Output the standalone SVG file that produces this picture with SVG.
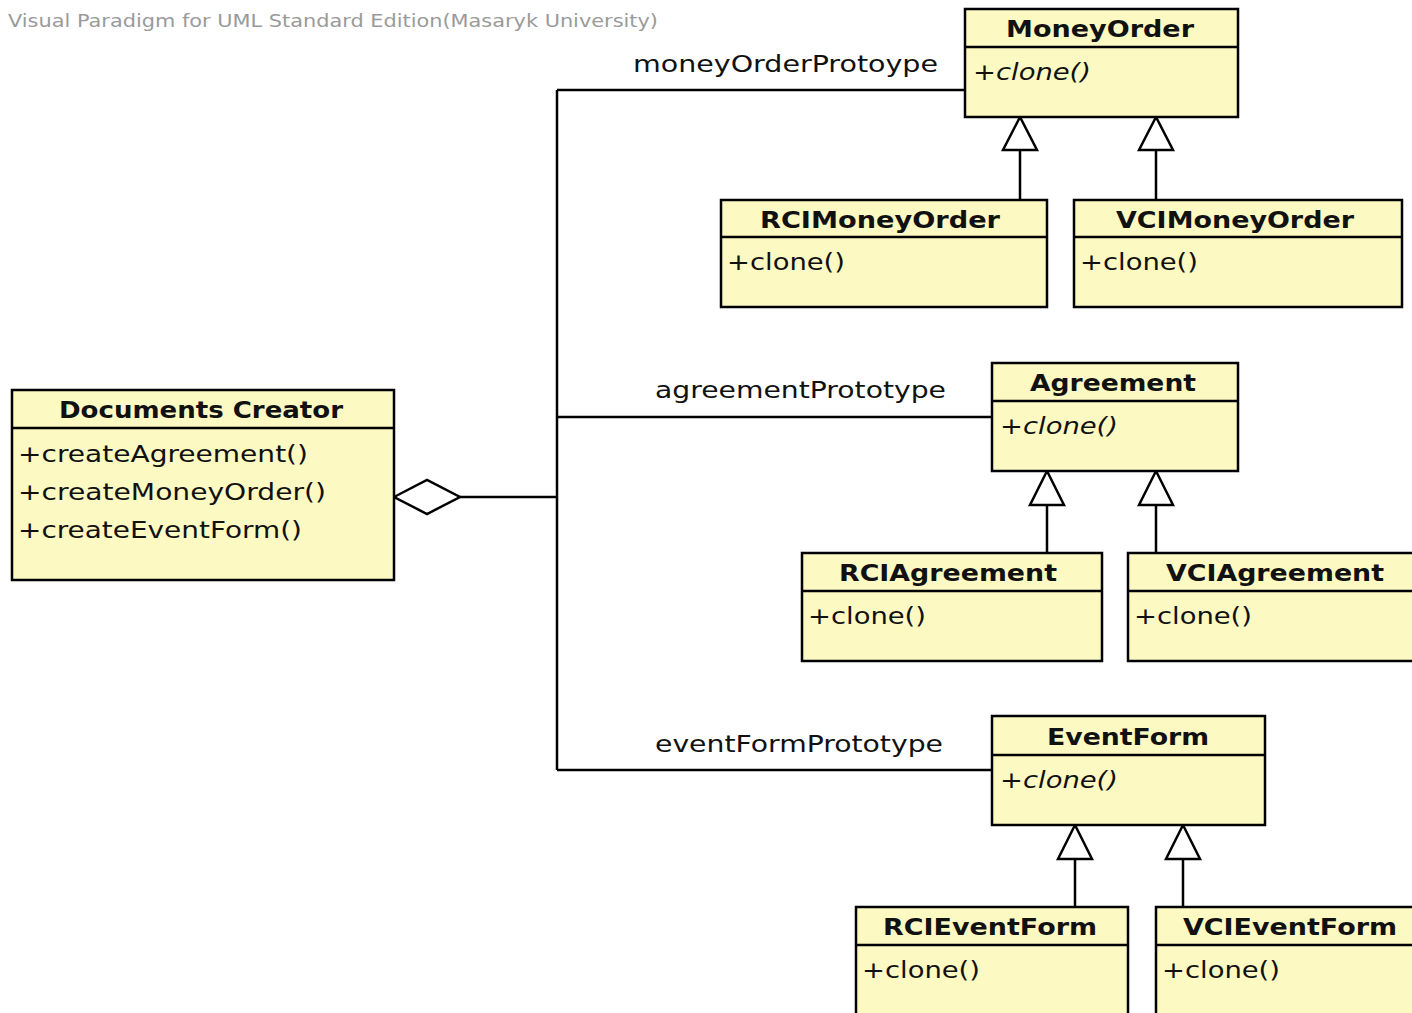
<svg xmlns="http://www.w3.org/2000/svg" width="1412" height="1013" viewBox="0 0 1412 1013">
<style>
.box{fill:#fcf9c2;stroke:#000;stroke-width:2.5}
.ln{stroke:#000;stroke-width:2.5;fill:none}
.tri{fill:#fcf9c2;stroke:#000;stroke-width:2.5}
.t{font-family:"DejaVu Sans",sans-serif;font-size:23px;fill:#111}
.h{font-family:"DejaVu Sans",sans-serif;font-size:23px;font-weight:bold;fill:#111;text-anchor:middle}
.i{font-style:italic}
.wm{font-family:"DejaVu Sans",sans-serif;font-size:17px;fill:#9a9a9a}
</style>
<rect width="1412" height="1013" fill="#fff"/>
<text class="wm" x="8" y="27" textLength="650" lengthAdjust="spacingAndGlyphs">Visual Paradigm for UML Standard Edition(Masaryk University)</text>

<g id="connectors">
<path class="ln" d="M460 497 H557 M557 90 V770 M557 90 H965 M557 417 H992 M557 770 H992"/>
<polygon class="tri" points="394,497 427,480 460,497 427,514" fill="#fff" style="fill:#fff"/>
<path class="ln" d="M1020 200 V150 M1156 200 V150 M1047 553 V505 M1156 553 V505 M1075 907 V859 M1183 907 V859"/>
<polygon class="tri" style="fill:#fff" points="1020,117 1003,150 1037,150"/>
<polygon class="tri" style="fill:#fff" points="1156,117 1139,150 1173,150"/>
<polygon class="tri" style="fill:#fff" points="1047,471 1030,505 1064,505"/>
<polygon class="tri" style="fill:#fff" points="1156,471 1139,505 1173,505"/>
<polygon class="tri" style="fill:#fff" points="1075,825 1058,859 1092,859"/>
<polygon class="tri" style="fill:#fff" points="1183,825 1166,859 1200,859"/>
<text class="t" x="633" y="72" textLength="305" lengthAdjust="spacingAndGlyphs">moneyOrderProtoype</text>
<text class="t" x="655" y="398" textLength="291" lengthAdjust="spacingAndGlyphs">agreementPrototype</text>
<text class="t" x="655" y="752" textLength="288" lengthAdjust="spacingAndGlyphs">eventFormPrototype</text>
</g>

<g id="DocumentsCreator">
<rect class="box" x="12" y="390" width="382" height="190"/>
<line class="ln" x1="12" y1="428" x2="394" y2="428"/>
<text class="h" x="201" y="418" textLength="284" lengthAdjust="spacingAndGlyphs">Documents Creator</text>
<text class="t" x="18" y="462" textLength="290" lengthAdjust="spacingAndGlyphs">+createAgreement()</text>
<text class="t" x="18" y="500" textLength="308" lengthAdjust="spacingAndGlyphs">+createMoneyOrder()</text>
<text class="t" x="18" y="538" textLength="284" lengthAdjust="spacingAndGlyphs">+createEventForm()</text>
</g>

<g id="MoneyOrder">
<rect class="box" x="965" y="9" width="273" height="108"/>
<line class="ln" x1="965" y1="47" x2="1238" y2="47"/>
<text class="h" x="1100" y="37" textLength="188" lengthAdjust="spacingAndGlyphs">MoneyOrder</text>
<text class="t i" x="973" y="80" textLength="118" lengthAdjust="spacingAndGlyphs">+clone()</text>
</g>
<g id="RCIMoneyOrder">
<rect class="box" x="721" y="200" width="326" height="107"/>
<line class="ln" x1="721" y1="237" x2="1047" y2="237"/>
<text class="h" x="880" y="228" textLength="240" lengthAdjust="spacingAndGlyphs">RCIMoneyOrder</text>
<text class="t" x="727" y="270" textLength="118" lengthAdjust="spacingAndGlyphs">+clone()</text>
</g>
<g id="VCIMoneyOrder">
<rect class="box" x="1074" y="200" width="328" height="107"/>
<line class="ln" x1="1074" y1="237" x2="1402" y2="237"/>
<text class="h" x="1235" y="228" textLength="238" lengthAdjust="spacingAndGlyphs">VCIMoneyOrder</text>
<text class="t" x="1080" y="270" textLength="118" lengthAdjust="spacingAndGlyphs">+clone()</text>
</g>

<g id="Agreement">
<rect class="box" x="992" y="363" width="246" height="108"/>
<line class="ln" x1="992" y1="401" x2="1238" y2="401"/>
<text class="h" x="1113" y="391" textLength="166" lengthAdjust="spacingAndGlyphs">Agreement</text>
<text class="t i" x="1000" y="434" textLength="118" lengthAdjust="spacingAndGlyphs">+clone()</text>
</g>
<g id="RCIAgreement">
<rect class="box" x="802" y="553" width="300" height="108"/>
<line class="ln" x1="802" y1="591" x2="1102" y2="591"/>
<text class="h" x="948" y="581" textLength="218" lengthAdjust="spacingAndGlyphs">RCIAgreement</text>
<text class="t" x="808" y="624" textLength="118" lengthAdjust="spacingAndGlyphs">+clone()</text>
</g>
<g id="VCIAgreement">
<rect class="box" x="1128" y="553" width="290" height="108"/>
<line class="ln" x1="1128" y1="591" x2="1418" y2="591"/>
<text class="h" x="1275" y="581" textLength="218" lengthAdjust="spacingAndGlyphs">VCIAgreement</text>
<text class="t" x="1134" y="624" textLength="118" lengthAdjust="spacingAndGlyphs">+clone()</text>
</g>

<g id="EventForm">
<rect class="box" x="992" y="716" width="273" height="109"/>
<line class="ln" x1="992" y1="755" x2="1265" y2="755"/>
<text class="h" x="1128" y="745" textLength="162" lengthAdjust="spacingAndGlyphs">EventForm</text>
<text class="t i" x="1000" y="788" textLength="118" lengthAdjust="spacingAndGlyphs">+clone()</text>
</g>
<g id="RCIEventForm">
<rect class="box" x="856" y="907" width="272" height="120"/>
<line class="ln" x1="856" y1="945" x2="1128" y2="945"/>
<text class="h" x="990" y="935" textLength="214" lengthAdjust="spacingAndGlyphs">RCIEventForm</text>
<text class="t" x="862" y="978" textLength="118" lengthAdjust="spacingAndGlyphs">+clone()</text>
</g>
<g id="VCIEventForm">
<rect class="box" x="1156" y="907" width="262" height="120"/>
<line class="ln" x1="1156" y1="945" x2="1418" y2="945"/>
<text class="h" x="1290" y="935" textLength="214" lengthAdjust="spacingAndGlyphs">VCIEventForm</text>
<text class="t" x="1162" y="978" textLength="118" lengthAdjust="spacingAndGlyphs">+clone()</text>
</g>
</svg>
